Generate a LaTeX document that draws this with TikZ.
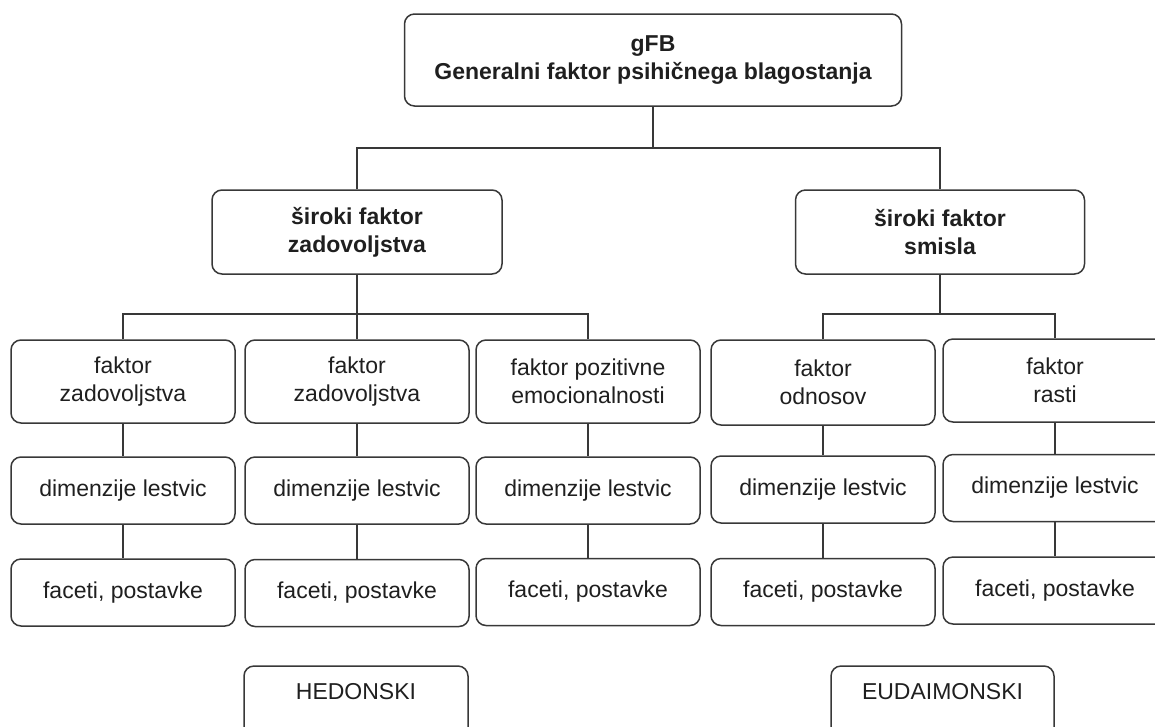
\documentclass[tikz,border=0pt]{standalone}
\usepackage{fontspec}
\setmainfont{Liberation Sans}
\usetikzlibrary{positioning}

\begin{document}
\begin{tikzpicture}[x=1pt, y=-1pt,
    box/.style={rectangle, rounded corners=10pt, draw=black!78, line width=1.5pt, align=center, text=black!88, inner sep=0pt, font=\fontsize{23}{27.5}\selectfont},
    headbox/.style={box, font=\bfseries\fontsize{23}{28}\selectfont},
    leafbox/.style={box, minimum width=224, minimum height=67},
    lbl/.style={text=black!88, inner sep=0pt, font=\fontsize{23}{27.5}\selectfont},
    conn/.style={draw=black!78, line width=1.3pt}]
    \useasboundingbox (0,0) rectangle (1155,726);

    % General factor and broad factors
    \node[headbox, minimum width=497, minimum height=92] (F_GFB) at (653,60) {gFB\\Generalni faktor psihičnega blagostanja};
    \node[headbox, minimum width=290, minimum height=84] (F_SZ) at (357,232) {široki faktor\\zadovoljstva};
    \node[headbox, minimum width=289, minimum height=84] (F_SS) at (940,232) {široki faktor\\smisla};

    % Factors
    \node[box, minimum width=224, minimum height=83] (F_Z1) at (123,381.5) {faktor\\zadovoljstva};
    \node[box, minimum width=224, minimum height=83] (F_Z2) at (357,381.5) {faktor\\zadovoljstva};
    \node[box, minimum width=224, minimum height=83] (F_PE) at (588,381.5) {faktor pozitivne\\emocionalnosti};
    \node[box, minimum width=224, minimum height=85] (F_OD) at (823,382.5) {faktor\\odnosov};
    \node[box, minimum width=224, minimum height=83] (F_RA) at (1055,380.5) {faktor\\rasti};

    % Scale dimensions
    \node[leafbox] (D_1) at (123,490.5) {dimenzije lestvic};
    \node[leafbox] (D_2) at (357,490.5) {dimenzije lestvic};
    \node[leafbox] (D_3) at (588,490.5) {dimenzije lestvic};
    \node[leafbox] (D_4) at (823,489.5) {dimenzije lestvic};
    \node[leafbox] (D_5) at (1055,488) {dimenzije lestvic};

    % Facets, items
    \node[leafbox] (P_1) at (123,592.5) {faceti, postavke};
    \node[leafbox] (P_2) at (357,593) {faceti, postavke};
    \node[leafbox] (P_3) at (588,592) {faceti, postavke};
    \node[leafbox] (P_4) at (823,592) {faceti, postavke};
    \node[leafbox] (P_5) at (1055,590.5) {faceti, postavke};

    % Hedonic / eudaimonic labels
    \node[box, minimum width=224, minimum height=80] (T_HED) at (356,706) {};
    \node[lbl] (L_HED) at (356,692) {HEDONSKI};
    \node[box, minimum width=223, minimum height=80] (T_EUD) at (942.5,706) {};
    \node[lbl] (L_EUD) at (942.5,692) {EUDAIMONSKI};

    % Junctions
    \coordinate (J_T) at (653,148);
    \coordinate (J_L) at (357,314);
    \coordinate (J_R) at (940,314);

    % Connectors
    \draw[conn] (F_GFB.south) -- (J_T); \draw[conn] (F_SZ.north) |- (J_T) -| (F_SS.north);
    \draw[conn] (F_SZ.south) -- (F_Z2.north); \draw[conn] (F_Z1.north) |- (J_L) -| (F_PE.north);
    \draw[conn] (F_SS.south) -- (J_R); \draw[conn] (F_OD.north) |- (J_R) -| (F_RA.north);

    \draw[conn] (F_Z1) -- (D_1); \draw[conn] (D_1) -- (P_1);
    \draw[conn] (F_Z2) -- (D_2); \draw[conn] (D_2) -- (P_2);
    \draw[conn] (F_PE) -- (D_3); \draw[conn] (D_3) -- (P_3);
    \draw[conn] (F_OD) -- (D_4); \draw[conn] (D_4) -- (P_4);
    \draw[conn] (F_RA) -- (D_5); \draw[conn] (D_5) -- (P_5);

\end{tikzpicture}
\end{document}
